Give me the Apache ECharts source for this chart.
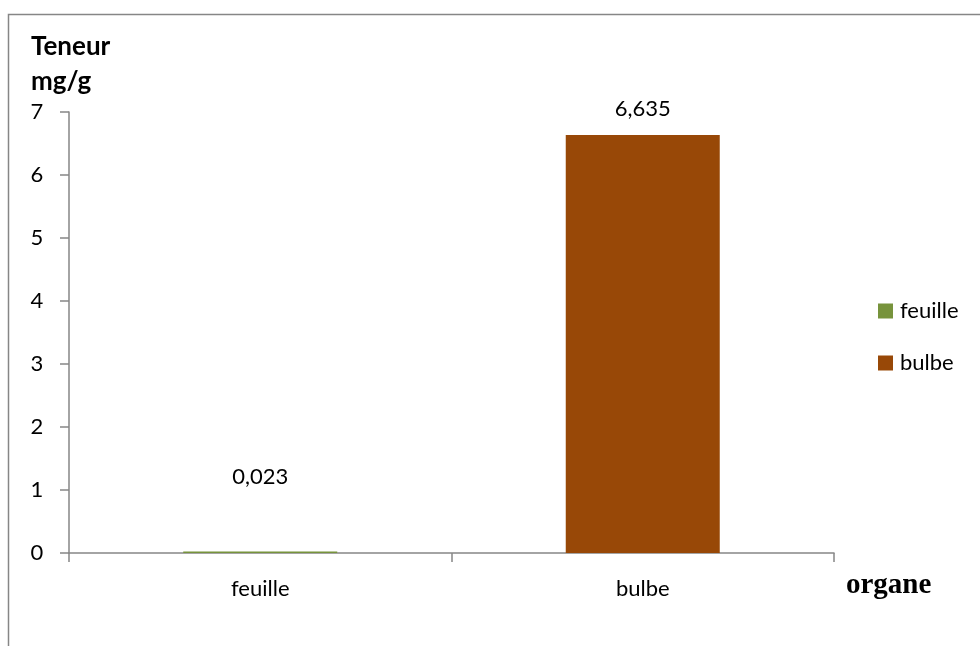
<!DOCTYPE html>
<html>
<head>
<meta charset="utf-8">
<script src="https://cdn.jsdelivr.net/npm/echarts@6/dist/echarts.min.js"></script>
<style>
  html, body { margin: 0; padding: 0; background: #fff; }
  #chart { width: 980px; height: 646px; }
</style>
</head>
<body>
<div id="chart"></div>
<script>
// Teneur par organe (mg/g)
const categories = ['feuille', 'bulbe'];
const feuilleValues = [0.023, null];
const bulbeValues = [null, 6.635];
const yTicks = [0, 1, 2, 3, 4, 5, 6, 7];

const font = 'Lato, "Open Sans", sans-serif';
const chart = echarts.init(document.getElementById('chart'));

function labelText(p) {
  return p.value == null ? '' : String(p.value).replace('.', ',');
}

chart.setOption({
  animation: false,
  backgroundColor: '#fff',
  title: {
    text: 'Teneur\nmg/g',
    left: 26,
    top: 24,
    textStyle: { fontFamily: font, fontWeight: 'bold', fontSize: 26, lineHeight: 35, color: '#000' }
  },
  graphic: [{
    type: 'rect',
    shape: { x: 8.5, y: 14.5, width: 1000, height: 700 },
    style: { fill: 'none', stroke: '#868686', lineWidth: 1.5 },
    silent: true
  }, {
    type: 'text',
    left: 846,
    top: 571,
    style: { text: 'organe', font: 'bold 29px "Liberation Serif", "DejaVu Serif", serif', fill: '#000' }
  }],
  legend: {
    orient: 'vertical',
    left: 873,
    top: 295,
    itemWidth: 15,
    itemHeight: 15,
    itemGap: 30,
    icon: 'rect',
    data: categories,
    textStyle: { fontFamily: font, fontSize: 22, color: '#000', padding: [0, 0, 0, 2] }
  },
  grid: { left: 69, right: 146, top: 112, bottom: 93, containLabel: false },
  xAxis: {
    type: 'category',
    data: categories,
    axisLine: { lineStyle: { color: '#868686', width: 1.5 } },
    axisTick: { show: true, length: 9, lineStyle: { color: '#868686', width: 1.5 } },
    axisLabel: { fontFamily: font, fontSize: 22, color: '#000', margin: 25 }
  },
  yAxis: {
    type: 'value',
    min: yTicks[0],
    max: yTicks[yTicks.length - 1],
    interval: 1,
    axisLine: { show: true, lineStyle: { color: '#868686', width: 1.5 } },
    axisTick: { show: true, length: 9, lineStyle: { color: '#868686', width: 1.5 } },
    splitLine: { show: false },
    axisLabel: { fontFamily: font, fontSize: 22, color: '#000', margin: 32, align: 'center' }
  },
  series: [{
    name: 'feuille',
    type: 'bar',
    stack: 'organe',
    barWidth: 154,
    data: feuilleValues,
    itemStyle: { color: '#77933C' },
    label: {
      show: true, position: 'top', distance: 64, formatter: labelText,
      fontFamily: font, fontSize: 22, color: '#000'
    }
  }, {
    name: 'bulbe',
    type: 'bar',
    stack: 'organe',
    barWidth: 154,
    data: bulbeValues,
    itemStyle: { color: '#984807' },
    label: {
      show: true, position: 'top', distance: 15, formatter: labelText,
      fontFamily: font, fontSize: 22, color: '#000'
    }
  }]
});
</script>
</body>
</html>
